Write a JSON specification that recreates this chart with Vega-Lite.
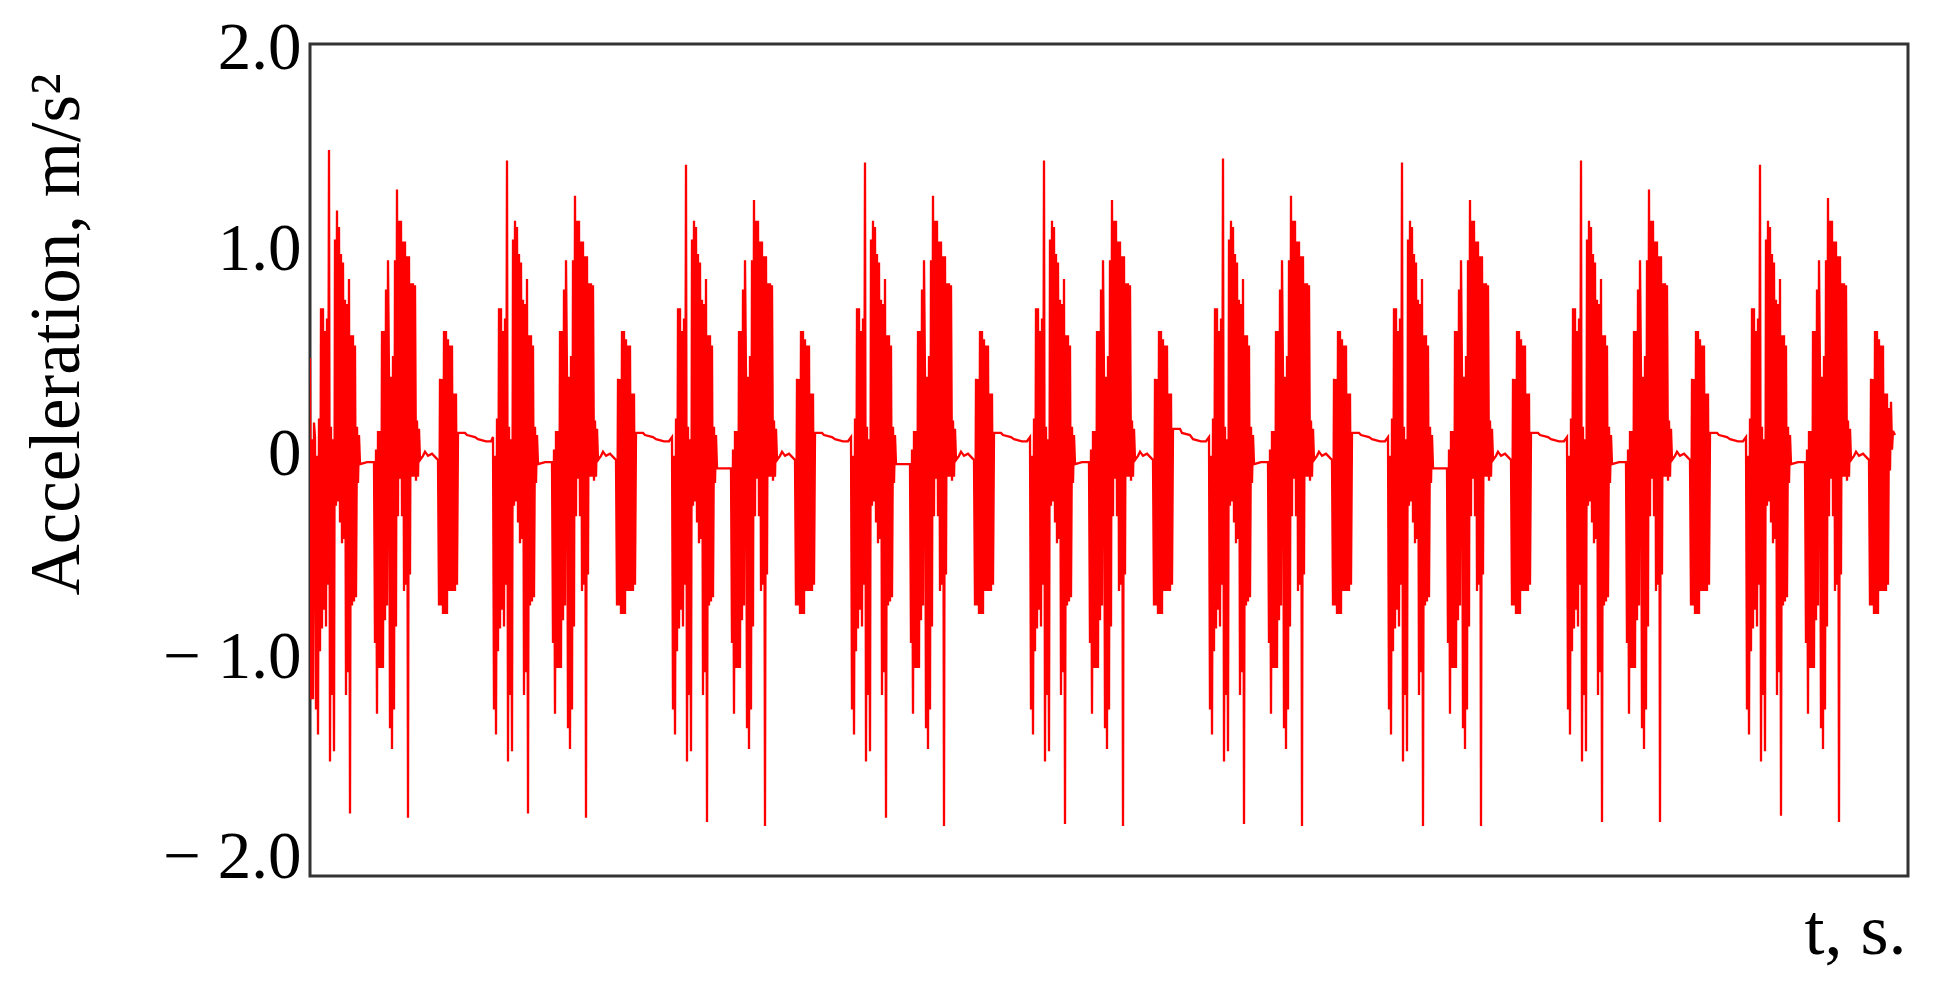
{
"$schema": "https://vega.github.io/schema/vega-lite/v6.json",
"width": 1598,
"height": 832,
"autosize": {"type": "none"},
"padding": {"left": 310, "top": 44, "right": 30, "bottom": 108},
"background": "white",
"config": {"view": {"stroke": "#333333", "strokeWidth": 3}, "font": "Liberation Serif"},
"data": {"values": [
{"t":0,"a":0.49},{"t":1,"a":-1.15},{"t":2,"a":0.1},{"t":3,"a":-1.15},{"t":4,"a":0.18},
{"t":5,"a":0.11},{"t":6,"a":-1.2},{"t":7,"a":0.02},{"t":8,"a":-1.32},{"t":9,"a":0.2},{"t":10,"a":-0.92},{"t":11,"a":0.73},{"t":12,"a":-0.81},{"t":13,"a":0.73},{"t":14,"a":-0.72},{"t":15,"a":0.62},{"t":16,"a":-0.8},{"t":17,"a":0.68},{"t":18,"a":-0.6},{"t":19,"a":1.49},{"t":20,"a":-1.45},{"t":21,"a":0.16},{"t":22,"a":-1.13},{"t":23,"a":0.1},{"t":24,"a":-1.4},{"t":25,"a":1.06},{"t":26,"a":-0.22},{"t":27,"a":1.2},{"t":28,"a":-0.2},{"t":29,"a":1.12},{"t":30,"a":-0.3},{"t":31,"a":0.99},{"t":32,"a":-0.4},{"t":33,"a":0.95},{"t":34,"a":-0.38},{"t":35,"a":0.77},{"t":36,"a":-1.13},{"t":37,"a":0.75},{"t":38,"a":-1.02},{"t":39,"a":0.87},{"t":40,"a":-1.7},{"t":41,"a":0.6},{"t":42,"a":-0.7},{"t":43,"a":0.6},{"t":44,"a":-0.68},{"t":45,"a":0.55},{"t":46,"a":-0.66},{"t":47,"a":0.16},{"t":48,"a":-0.11},{"t":49,"a":0.12},{"t":50,"a":-0.02},{"t":57,"a":-0.01},{"t":64,"a":-0.01},{"t":65,"a":-0.88},{"t":66,"a":0.05},{"t":67,"a":-1.22},{"t":68,"a":0.14},{"t":69,"a":-1},{"t":70,"a":0.14},{"t":71,"a":-1},{"t":72,"a":0.62},{"t":73,"a":-1},{"t":74,"a":0.62},{"t":75,"a":-0.77},{"t":76,"a":0.82},{"t":77,"a":-0.7},{"t":78,"a":0.96},{"t":79,"a":0.4},{"t":80,"a":-1.29},{"t":81,"a":0.4},{"t":82,"a":-1.39},{"t":83,"a":0.5},{"t":84,"a":-1.2},{"t":85,"a":0.96},{"t":86,"a":-0.8},{"t":87,"a":1.3},{"t":88,"a":-0.27},{"t":89,"a":1.15},{"t":90,"a":-0.09},{"t":91,"a":1.15},{"t":92,"a":-0.27},{"t":93,"a":1.05},{"t":94,"a":-0.63},{"t":95,"a":1.05},{"t":96,"a":-0.6},{"t":97,"a":0.98},{"t":98,"a":-1.72},{"t":99,"a":0.98},{"t":100,"a":-0.55},{"t":101,"a":0.85},{"t":102,"a":-0.08},{"t":103,"a":0.85},{"t":104,"a":-0.08},{"t":105,"a":0.84},{"t":106,"a":-0.1},{"t":107,"a":0.19},{"t":108,"a":-0.08},{"t":109,"a":0.15},{"t":110,"a":0},{"t":113,"a":0.02},{"t":115,"a":0.04},{"t":118,"a":0.02},{"t":122,"a":0.03},{"t":126,"a":0.01},{"t":128,"a":0},{"t":129,"a":-0.7},{"t":130,"a":0.39},{"t":131,"a":-0.7},{"t":132,"a":0.39},{"t":133,"a":-0.74},{"t":134,"a":0.62},{"t":135,"a":-0.74},{"t":136,"a":0.62},{"t":137,"a":-0.74},{"t":138,"a":0.58},{"t":139,"a":-0.63},{"t":140,"a":0.55},{"t":141,"a":-0.63},{"t":142,"a":0.55},{"t":143,"a":-0.63},{"t":144,"a":0.32},{"t":145,"a":-0.63},{"t":146,"a":0.32},{"t":147,"a":-0.6},{"t":148,"a":0.13},{"t":155,"a":0.13},{"t":157,"a":0.12},{"t":165,"a":0.11},{"t":168,"a":0.1},{"t":176,"a":0.09},{"t":181,"a":0.09},
{"t":183,"a":0.11},{"t":184,"a":-1.2},{"t":185,"a":0.02},{"t":186,"a":-1.32},{"t":187,"a":0.2},{"t":188,"a":-0.92},{"t":189,"a":0.73},{"t":190,"a":-0.81},{"t":191,"a":0.73},{"t":192,"a":-0.72},{"t":193,"a":0.62},{"t":194,"a":-0.8},{"t":195,"a":0.68},{"t":196,"a":-0.6},{"t":197,"a":1.44},{"t":198,"a":-1.45},{"t":199,"a":0.16},{"t":200,"a":-1.13},{"t":201,"a":0.1},{"t":202,"a":-1.4},{"t":203,"a":1.06},{"t":204,"a":-0.22},{"t":205,"a":1.15},{"t":206,"a":-0.2},{"t":207,"a":1.12},{"t":208,"a":-0.3},{"t":209,"a":0.99},{"t":210,"a":-0.4},{"t":211,"a":0.95},{"t":212,"a":-0.38},{"t":213,"a":0.77},{"t":214,"a":-1.13},{"t":215,"a":0.75},{"t":216,"a":-1.02},{"t":217,"a":0.87},{"t":218,"a":-1.7},{"t":219,"a":0.6},{"t":220,"a":-0.7},{"t":221,"a":0.6},{"t":222,"a":-0.68},{"t":223,"a":0.55},{"t":224,"a":-0.66},{"t":225,"a":0.16},{"t":226,"a":-0.11},{"t":227,"a":0.12},{"t":228,"a":-0.02},{"t":235,"a":-0.01},{"t":242,"a":-0.01},{"t":243,"a":-0.88},{"t":244,"a":0.05},{"t":245,"a":-1.22},{"t":246,"a":0.14},{"t":247,"a":-1},{"t":248,"a":0.14},{"t":249,"a":-1},{"t":250,"a":0.62},{"t":251,"a":-1},{"t":252,"a":0.62},{"t":253,"a":-0.77},{"t":254,"a":0.82},{"t":255,"a":-0.7},{"t":256,"a":0.96},{"t":257,"a":0.4},{"t":258,"a":-1.29},{"t":259,"a":0.4},{"t":260,"a":-1.39},{"t":261,"a":0.5},{"t":262,"a":-1.2},{"t":263,"a":0.96},{"t":264,"a":-0.8},{"t":265,"a":1.27},{"t":266,"a":-0.27},{"t":267,"a":1.15},{"t":268,"a":-0.09},{"t":269,"a":1.15},{"t":270,"a":-0.27},{"t":271,"a":1.05},{"t":272,"a":-0.63},{"t":273,"a":1.05},{"t":274,"a":-0.6},{"t":275,"a":0.98},{"t":276,"a":-1.72},{"t":277,"a":0.98},{"t":278,"a":-0.55},{"t":279,"a":0.85},{"t":280,"a":-0.08},{"t":281,"a":0.85},{"t":282,"a":-0.08},{"t":283,"a":0.84},{"t":284,"a":-0.1},{"t":285,"a":0.19},{"t":286,"a":-0.08},{"t":287,"a":0.15},{"t":288,"a":0},{"t":291,"a":0.02},{"t":293,"a":0.04},{"t":296,"a":0.02},{"t":300,"a":0.03},{"t":304,"a":0.01},{"t":306,"a":0},{"t":307,"a":-0.7},{"t":308,"a":0.39},{"t":309,"a":-0.7},{"t":310,"a":0.39},{"t":311,"a":-0.74},{"t":312,"a":0.62},{"t":313,"a":-0.74},{"t":314,"a":0.62},{"t":315,"a":-0.74},{"t":316,"a":0.58},{"t":317,"a":-0.63},{"t":318,"a":0.55},{"t":319,"a":-0.63},{"t":320,"a":0.55},{"t":321,"a":-0.63},{"t":322,"a":0.32},{"t":323,"a":-0.63},{"t":324,"a":0.32},{"t":325,"a":-0.6},{"t":326,"a":0.13},{"t":333,"a":0.13},{"t":335,"a":0.12},{"t":343,"a":0.11},{"t":346,"a":0.1},{"t":354,"a":0.09},{"t":359,"a":0.09},
{"t":362,"a":0.11},{"t":363,"a":-1.2},{"t":364,"a":0.02},{"t":365,"a":-1.32},{"t":366,"a":0.2},{"t":367,"a":-0.92},{"t":368,"a":0.73},{"t":369,"a":-0.81},{"t":370,"a":0.73},{"t":371,"a":-0.72},{"t":372,"a":0.62},{"t":373,"a":-0.8},{"t":374,"a":0.68},{"t":375,"a":-0.6},{"t":376,"a":1.42},{"t":377,"a":-1.45},{"t":378,"a":0.16},{"t":379,"a":-1.13},{"t":380,"a":0.1},{"t":381,"a":-1.4},{"t":382,"a":1.06},{"t":383,"a":-0.22},{"t":384,"a":1.15},{"t":385,"a":-0.2},{"t":386,"a":1.12},{"t":387,"a":-0.3},{"t":388,"a":0.99},{"t":389,"a":-0.4},{"t":390,"a":0.95},{"t":391,"a":-0.38},{"t":392,"a":0.77},{"t":393,"a":-1.13},{"t":394,"a":0.75},{"t":395,"a":-1.02},{"t":396,"a":0.87},{"t":397,"a":-1.74},{"t":398,"a":0.6},{"t":399,"a":-0.7},{"t":400,"a":0.6},{"t":401,"a":-0.68},{"t":402,"a":0.55},{"t":403,"a":-0.66},{"t":404,"a":0.16},{"t":405,"a":-0.11},{"t":406,"a":0.12},{"t":407,"a":-0.04},{"t":414,"a":-0.04},{"t":421,"a":-0.04},{"t":422,"a":-0.88},{"t":423,"a":0.05},{"t":424,"a":-1.22},{"t":425,"a":0.14},{"t":426,"a":-1},{"t":427,"a":0.14},{"t":428,"a":-1},{"t":429,"a":0.62},{"t":430,"a":-1},{"t":431,"a":0.62},{"t":432,"a":-0.77},{"t":433,"a":0.82},{"t":434,"a":-0.7},{"t":435,"a":0.96},{"t":436,"a":0.4},{"t":437,"a":-1.29},{"t":438,"a":0.4},{"t":439,"a":-1.39},{"t":440,"a":0.5},{"t":441,"a":-1.2},{"t":442,"a":0.96},{"t":443,"a":-0.8},{"t":444,"a":1.25},{"t":445,"a":-0.27},{"t":446,"a":1.15},{"t":447,"a":-0.09},{"t":448,"a":1.15},{"t":449,"a":-0.27},{"t":450,"a":1.05},{"t":451,"a":-0.63},{"t":452,"a":1.05},{"t":453,"a":-0.6},{"t":454,"a":0.98},{"t":455,"a":-1.76},{"t":456,"a":0.98},{"t":457,"a":-0.55},{"t":458,"a":0.85},{"t":459,"a":-0.08},{"t":460,"a":0.85},{"t":461,"a":-0.08},{"t":462,"a":0.84},{"t":463,"a":-0.1},{"t":464,"a":0.19},{"t":465,"a":-0.08},{"t":466,"a":0.15},{"t":467,"a":0},{"t":470,"a":0.02},{"t":472,"a":0.04},{"t":475,"a":0.02},{"t":479,"a":0.03},{"t":483,"a":0.01},{"t":485,"a":0},{"t":486,"a":-0.7},{"t":487,"a":0.39},{"t":488,"a":-0.7},{"t":489,"a":0.39},{"t":490,"a":-0.74},{"t":491,"a":0.62},{"t":492,"a":-0.74},{"t":493,"a":0.62},{"t":494,"a":-0.74},{"t":495,"a":0.58},{"t":496,"a":-0.63},{"t":497,"a":0.55},{"t":498,"a":-0.63},{"t":499,"a":0.55},{"t":500,"a":-0.63},{"t":501,"a":0.32},{"t":502,"a":-0.63},{"t":503,"a":0.32},{"t":504,"a":-0.6},{"t":505,"a":0.13},{"t":512,"a":0.13},{"t":514,"a":0.12},{"t":522,"a":0.11},{"t":525,"a":0.1},{"t":533,"a":0.09},{"t":538,"a":0.09},
{"t":541,"a":0.11},{"t":542,"a":-1.2},{"t":543,"a":0.02},{"t":544,"a":-1.32},{"t":545,"a":0.2},{"t":546,"a":-0.92},{"t":547,"a":0.73},{"t":548,"a":-0.81},{"t":549,"a":0.73},{"t":550,"a":-0.72},{"t":551,"a":0.62},{"t":552,"a":-0.8},{"t":553,"a":0.68},{"t":554,"a":-0.6},{"t":555,"a":1.43},{"t":556,"a":-1.45},{"t":557,"a":0.16},{"t":558,"a":-1.13},{"t":559,"a":0.1},{"t":560,"a":-1.4},{"t":561,"a":1.06},{"t":562,"a":-0.22},{"t":563,"a":1.15},{"t":564,"a":-0.2},{"t":565,"a":1.12},{"t":566,"a":-0.3},{"t":567,"a":0.99},{"t":568,"a":-0.4},{"t":569,"a":0.95},{"t":570,"a":-0.38},{"t":571,"a":0.77},{"t":572,"a":-1.13},{"t":573,"a":0.75},{"t":574,"a":-1.02},{"t":575,"a":0.87},{"t":576,"a":-1.72},{"t":577,"a":0.6},{"t":578,"a":-0.7},{"t":579,"a":0.6},{"t":580,"a":-0.68},{"t":581,"a":0.55},{"t":582,"a":-0.66},{"t":583,"a":0.16},{"t":584,"a":-0.11},{"t":585,"a":0.12},{"t":586,"a":-0.02},{"t":593,"a":-0.02},{"t":600,"a":-0.02},{"t":601,"a":-0.88},{"t":602,"a":0.05},{"t":603,"a":-1.22},{"t":604,"a":0.14},{"t":605,"a":-1},{"t":606,"a":0.14},{"t":607,"a":-1},{"t":608,"a":0.62},{"t":609,"a":-1},{"t":610,"a":0.62},{"t":611,"a":-0.77},{"t":612,"a":0.82},{"t":613,"a":-0.7},{"t":614,"a":0.96},{"t":615,"a":0.4},{"t":616,"a":-1.29},{"t":617,"a":0.4},{"t":618,"a":-1.39},{"t":619,"a":0.5},{"t":620,"a":-1.2},{"t":621,"a":0.96},{"t":622,"a":-0.8},{"t":623,"a":1.27},{"t":624,"a":-0.27},{"t":625,"a":1.15},{"t":626,"a":-0.09},{"t":627,"a":1.15},{"t":628,"a":-0.27},{"t":629,"a":1.05},{"t":630,"a":-0.63},{"t":631,"a":1.05},{"t":632,"a":-0.6},{"t":633,"a":0.98},{"t":634,"a":-1.76},{"t":635,"a":0.98},{"t":636,"a":-0.55},{"t":637,"a":0.85},{"t":638,"a":-0.08},{"t":639,"a":0.85},{"t":640,"a":-0.08},{"t":641,"a":0.84},{"t":642,"a":-0.1},{"t":643,"a":0.19},{"t":644,"a":-0.08},{"t":645,"a":0.15},{"t":646,"a":0},{"t":649,"a":0.02},{"t":651,"a":0.04},{"t":654,"a":0.02},{"t":658,"a":0.03},{"t":662,"a":0.01},{"t":664,"a":0},{"t":665,"a":-0.7},{"t":666,"a":0.39},{"t":667,"a":-0.7},{"t":668,"a":0.39},{"t":669,"a":-0.74},{"t":670,"a":0.62},{"t":671,"a":-0.74},{"t":672,"a":0.62},{"t":673,"a":-0.74},{"t":674,"a":0.58},{"t":675,"a":-0.63},{"t":676,"a":0.55},{"t":677,"a":-0.63},{"t":678,"a":0.55},{"t":679,"a":-0.63},{"t":680,"a":0.32},{"t":681,"a":-0.63},{"t":682,"a":0.32},{"t":683,"a":-0.6},{"t":684,"a":0.13},{"t":691,"a":0.13},{"t":693,"a":0.12},{"t":701,"a":0.11},{"t":704,"a":0.1},{"t":712,"a":0.09},{"t":717,"a":0.09},
{"t":720,"a":0.11},{"t":721,"a":-1.2},{"t":722,"a":0.02},{"t":723,"a":-1.32},{"t":724,"a":0.2},{"t":725,"a":-0.92},{"t":726,"a":0.73},{"t":727,"a":-0.81},{"t":728,"a":0.73},{"t":729,"a":-0.72},{"t":730,"a":0.62},{"t":731,"a":-0.8},{"t":732,"a":0.68},{"t":733,"a":-0.6},{"t":734,"a":1.44},{"t":735,"a":-1.45},{"t":736,"a":0.16},{"t":737,"a":-1.13},{"t":738,"a":0.1},{"t":739,"a":-1.4},{"t":740,"a":1.06},{"t":741,"a":-0.22},{"t":742,"a":1.15},{"t":743,"a":-0.2},{"t":744,"a":1.12},{"t":745,"a":-0.3},{"t":746,"a":0.99},{"t":747,"a":-0.4},{"t":748,"a":0.95},{"t":749,"a":-0.38},{"t":750,"a":0.77},{"t":751,"a":-1.13},{"t":752,"a":0.75},{"t":753,"a":-1.02},{"t":754,"a":0.87},{"t":755,"a":-1.75},{"t":756,"a":0.6},{"t":757,"a":-0.7},{"t":758,"a":0.6},{"t":759,"a":-0.68},{"t":760,"a":0.55},{"t":761,"a":-0.66},{"t":762,"a":0.16},{"t":763,"a":-0.11},{"t":764,"a":0.12},{"t":765,"a":-0.02},{"t":772,"a":-0.01},{"t":779,"a":-0.01},{"t":780,"a":-0.88},{"t":781,"a":0.05},{"t":782,"a":-1.22},{"t":783,"a":0.14},{"t":784,"a":-1},{"t":785,"a":0.14},{"t":786,"a":-1},{"t":787,"a":0.62},{"t":788,"a":-1},{"t":789,"a":0.62},{"t":790,"a":-0.77},{"t":791,"a":0.82},{"t":792,"a":-0.7},{"t":793,"a":0.96},{"t":794,"a":0.4},{"t":795,"a":-1.29},{"t":796,"a":0.4},{"t":797,"a":-1.39},{"t":798,"a":0.5},{"t":799,"a":-1.2},{"t":800,"a":0.96},{"t":801,"a":-0.8},{"t":802,"a":1.25},{"t":803,"a":-0.27},{"t":804,"a":1.15},{"t":805,"a":-0.09},{"t":806,"a":1.15},{"t":807,"a":-0.27},{"t":808,"a":1.05},{"t":809,"a":-0.63},{"t":810,"a":1.05},{"t":811,"a":-0.6},{"t":812,"a":0.98},{"t":813,"a":-1.76},{"t":814,"a":0.98},{"t":815,"a":-0.55},{"t":816,"a":0.85},{"t":817,"a":-0.08},{"t":818,"a":0.85},{"t":819,"a":-0.08},{"t":820,"a":0.84},{"t":821,"a":-0.1},{"t":822,"a":0.19},{"t":823,"a":-0.08},{"t":824,"a":0.15},{"t":825,"a":0},{"t":828,"a":0.02},{"t":830,"a":0.04},{"t":833,"a":0.02},{"t":837,"a":0.03},{"t":841,"a":0.01},{"t":843,"a":0},{"t":844,"a":-0.7},{"t":845,"a":0.39},{"t":846,"a":-0.7},{"t":847,"a":0.39},{"t":848,"a":-0.74},{"t":849,"a":0.62},{"t":850,"a":-0.74},{"t":851,"a":0.62},{"t":852,"a":-0.74},{"t":853,"a":0.58},{"t":854,"a":-0.63},{"t":855,"a":0.55},{"t":856,"a":-0.63},{"t":857,"a":0.55},{"t":858,"a":-0.63},{"t":859,"a":0.32},{"t":860,"a":-0.63},{"t":861,"a":0.32},{"t":862,"a":-0.6},{"t":863,"a":0.15},{"t":870,"a":0.15},{"t":872,"a":0.13},{"t":880,"a":0.12},{"t":883,"a":0.1},{"t":891,"a":0.09},{"t":896,"a":0.09},
{"t":899,"a":0.11},{"t":900,"a":-1.2},{"t":901,"a":0.02},{"t":902,"a":-1.32},{"t":903,"a":0.2},{"t":904,"a":-0.92},{"t":905,"a":0.73},{"t":906,"a":-0.81},{"t":907,"a":0.73},{"t":908,"a":-0.72},{"t":909,"a":0.62},{"t":910,"a":-0.8},{"t":911,"a":0.68},{"t":912,"a":-0.6},{"t":913,"a":1.45},{"t":914,"a":-1.45},{"t":915,"a":0.16},{"t":916,"a":-1.13},{"t":917,"a":0.1},{"t":918,"a":-1.4},{"t":919,"a":1.06},{"t":920,"a":-0.22},{"t":921,"a":1.15},{"t":922,"a":-0.2},{"t":923,"a":1.12},{"t":924,"a":-0.3},{"t":925,"a":0.99},{"t":926,"a":-0.4},{"t":927,"a":0.95},{"t":928,"a":-0.38},{"t":929,"a":0.77},{"t":930,"a":-1.13},{"t":931,"a":0.75},{"t":932,"a":-1.02},{"t":933,"a":0.87},{"t":934,"a":-1.75},{"t":935,"a":0.6},{"t":936,"a":-0.7},{"t":937,"a":0.6},{"t":938,"a":-0.68},{"t":939,"a":0.55},{"t":940,"a":-0.66},{"t":941,"a":0.16},{"t":942,"a":-0.11},{"t":943,"a":0.12},{"t":944,"a":-0.02},{"t":951,"a":-0.01},{"t":958,"a":-0.01},{"t":959,"a":-0.88},{"t":960,"a":0.05},{"t":961,"a":-1.22},{"t":962,"a":0.14},{"t":963,"a":-1},{"t":964,"a":0.14},{"t":965,"a":-1},{"t":966,"a":0.62},{"t":967,"a":-1},{"t":968,"a":0.62},{"t":969,"a":-0.77},{"t":970,"a":0.82},{"t":971,"a":-0.7},{"t":972,"a":0.96},{"t":973,"a":0.4},{"t":974,"a":-1.29},{"t":975,"a":0.4},{"t":976,"a":-1.39},{"t":977,"a":0.5},{"t":978,"a":-1.2},{"t":979,"a":0.96},{"t":980,"a":-0.8},{"t":981,"a":1.27},{"t":982,"a":-0.27},{"t":983,"a":1.15},{"t":984,"a":-0.09},{"t":985,"a":1.15},{"t":986,"a":-0.27},{"t":987,"a":1.05},{"t":988,"a":-0.63},{"t":989,"a":1.05},{"t":990,"a":-0.6},{"t":991,"a":0.98},{"t":992,"a":-1.76},{"t":993,"a":0.98},{"t":994,"a":-0.55},{"t":995,"a":0.85},{"t":996,"a":-0.08},{"t":997,"a":0.85},{"t":998,"a":-0.08},{"t":999,"a":0.84},{"t":1000,"a":-0.1},{"t":1001,"a":0.19},{"t":1002,"a":-0.08},{"t":1003,"a":0.15},{"t":1004,"a":0},{"t":1007,"a":0.02},{"t":1009,"a":0.04},{"t":1012,"a":0.02},{"t":1016,"a":0.03},{"t":1020,"a":0.01},{"t":1022,"a":0},{"t":1023,"a":-0.7},{"t":1024,"a":0.39},{"t":1025,"a":-0.7},{"t":1026,"a":0.39},{"t":1027,"a":-0.74},{"t":1028,"a":0.62},{"t":1029,"a":-0.74},{"t":1030,"a":0.62},{"t":1031,"a":-0.74},{"t":1032,"a":0.58},{"t":1033,"a":-0.63},{"t":1034,"a":0.55},{"t":1035,"a":-0.63},{"t":1036,"a":0.55},{"t":1037,"a":-0.63},{"t":1038,"a":0.32},{"t":1039,"a":-0.63},{"t":1040,"a":0.32},{"t":1041,"a":-0.6},{"t":1042,"a":0.13},{"t":1049,"a":0.13},{"t":1051,"a":0.12},{"t":1059,"a":0.11},{"t":1062,"a":0.1},{"t":1070,"a":0.09},{"t":1075,"a":0.09},
{"t":1078,"a":0.11},{"t":1079,"a":-1.2},{"t":1080,"a":0.02},{"t":1081,"a":-1.32},{"t":1082,"a":0.2},{"t":1083,"a":-0.92},{"t":1084,"a":0.73},{"t":1085,"a":-0.81},{"t":1086,"a":0.73},{"t":1087,"a":-0.72},{"t":1088,"a":0.62},{"t":1089,"a":-0.8},{"t":1090,"a":0.68},{"t":1091,"a":-0.6},{"t":1092,"a":1.43},{"t":1093,"a":-1.45},{"t":1094,"a":0.16},{"t":1095,"a":-1.13},{"t":1096,"a":0.1},{"t":1097,"a":-1.4},{"t":1098,"a":1.06},{"t":1099,"a":-0.22},{"t":1100,"a":1.15},{"t":1101,"a":-0.2},{"t":1102,"a":1.12},{"t":1103,"a":-0.3},{"t":1104,"a":0.99},{"t":1105,"a":-0.4},{"t":1106,"a":0.95},{"t":1107,"a":-0.38},{"t":1108,"a":0.77},{"t":1109,"a":-1.13},{"t":1110,"a":0.75},{"t":1111,"a":-1.02},{"t":1112,"a":0.87},{"t":1113,"a":-1.76},{"t":1114,"a":0.6},{"t":1115,"a":-0.7},{"t":1116,"a":0.6},{"t":1117,"a":-0.68},{"t":1118,"a":0.55},{"t":1119,"a":-0.66},{"t":1120,"a":0.16},{"t":1121,"a":-0.11},{"t":1122,"a":0.12},{"t":1123,"a":-0.04},{"t":1130,"a":-0.04},{"t":1137,"a":-0.04},{"t":1138,"a":-0.88},{"t":1139,"a":0.05},{"t":1140,"a":-1.22},{"t":1141,"a":0.14},{"t":1142,"a":-1},{"t":1143,"a":0.14},{"t":1144,"a":-1},{"t":1145,"a":0.62},{"t":1146,"a":-1},{"t":1147,"a":0.62},{"t":1148,"a":-0.77},{"t":1149,"a":0.82},{"t":1150,"a":-0.7},{"t":1151,"a":0.96},{"t":1152,"a":0.4},{"t":1153,"a":-1.29},{"t":1154,"a":0.4},{"t":1155,"a":-1.39},{"t":1156,"a":0.5},{"t":1157,"a":-1.2},{"t":1158,"a":0.96},{"t":1159,"a":-0.8},{"t":1160,"a":1.25},{"t":1161,"a":-0.27},{"t":1162,"a":1.15},{"t":1163,"a":-0.09},{"t":1164,"a":1.15},{"t":1165,"a":-0.27},{"t":1166,"a":1.05},{"t":1167,"a":-0.63},{"t":1168,"a":1.05},{"t":1169,"a":-0.6},{"t":1170,"a":0.98},{"t":1171,"a":-1.76},{"t":1172,"a":0.98},{"t":1173,"a":-0.55},{"t":1174,"a":0.85},{"t":1175,"a":-0.08},{"t":1176,"a":0.85},{"t":1177,"a":-0.08},{"t":1178,"a":0.84},{"t":1179,"a":-0.1},{"t":1180,"a":0.19},{"t":1181,"a":-0.08},{"t":1182,"a":0.15},{"t":1183,"a":0},{"t":1186,"a":0.02},{"t":1188,"a":0.04},{"t":1191,"a":0.02},{"t":1195,"a":0.03},{"t":1199,"a":0.01},{"t":1201,"a":0},{"t":1202,"a":-0.7},{"t":1203,"a":0.39},{"t":1204,"a":-0.7},{"t":1205,"a":0.39},{"t":1206,"a":-0.74},{"t":1207,"a":0.62},{"t":1208,"a":-0.74},{"t":1209,"a":0.62},{"t":1210,"a":-0.74},{"t":1211,"a":0.58},{"t":1212,"a":-0.63},{"t":1213,"a":0.55},{"t":1214,"a":-0.63},{"t":1215,"a":0.55},{"t":1216,"a":-0.63},{"t":1217,"a":0.32},{"t":1218,"a":-0.63},{"t":1219,"a":0.32},{"t":1220,"a":-0.6},{"t":1221,"a":0.13},{"t":1228,"a":0.13},{"t":1230,"a":0.12},{"t":1238,"a":0.11},{"t":1241,"a":0.1},{"t":1249,"a":0.09},{"t":1254,"a":0.09},
{"t":1257,"a":0.11},{"t":1258,"a":-1.2},{"t":1259,"a":0.02},{"t":1260,"a":-1.32},{"t":1261,"a":0.2},{"t":1262,"a":-0.92},{"t":1263,"a":0.73},{"t":1264,"a":-0.81},{"t":1265,"a":0.73},{"t":1266,"a":-0.72},{"t":1267,"a":0.62},{"t":1268,"a":-0.8},{"t":1269,"a":0.68},{"t":1270,"a":-0.6},{"t":1271,"a":1.44},{"t":1272,"a":-1.45},{"t":1273,"a":0.16},{"t":1274,"a":-1.13},{"t":1275,"a":0.1},{"t":1276,"a":-1.4},{"t":1277,"a":1.06},{"t":1278,"a":-0.22},{"t":1279,"a":1.15},{"t":1280,"a":-0.2},{"t":1281,"a":1.12},{"t":1282,"a":-0.3},{"t":1283,"a":0.99},{"t":1284,"a":-0.4},{"t":1285,"a":0.95},{"t":1286,"a":-0.38},{"t":1287,"a":0.77},{"t":1288,"a":-1.13},{"t":1289,"a":0.75},{"t":1290,"a":-1.02},{"t":1291,"a":0.87},{"t":1292,"a":-1.74},{"t":1293,"a":0.6},{"t":1294,"a":-0.7},{"t":1295,"a":0.6},{"t":1296,"a":-0.68},{"t":1297,"a":0.55},{"t":1298,"a":-0.66},{"t":1299,"a":0.16},{"t":1300,"a":-0.11},{"t":1301,"a":0.12},{"t":1302,"a":-0.02},{"t":1309,"a":-0.01},{"t":1316,"a":-0.01},{"t":1317,"a":-0.88},{"t":1318,"a":0.05},{"t":1319,"a":-1.22},{"t":1320,"a":0.14},{"t":1321,"a":-1},{"t":1322,"a":0.14},{"t":1323,"a":-1},{"t":1324,"a":0.62},{"t":1325,"a":-1},{"t":1326,"a":0.62},{"t":1327,"a":-0.77},{"t":1328,"a":0.82},{"t":1329,"a":-0.7},{"t":1330,"a":0.96},{"t":1331,"a":0.4},{"t":1332,"a":-1.29},{"t":1333,"a":0.4},{"t":1334,"a":-1.39},{"t":1335,"a":0.5},{"t":1336,"a":-1.2},{"t":1337,"a":0.96},{"t":1338,"a":-0.8},{"t":1339,"a":1.3},{"t":1340,"a":-0.27},{"t":1341,"a":1.15},{"t":1342,"a":-0.09},{"t":1343,"a":1.15},{"t":1344,"a":-0.27},{"t":1345,"a":1.05},{"t":1346,"a":-0.63},{"t":1347,"a":1.05},{"t":1348,"a":-0.6},{"t":1349,"a":0.98},{"t":1350,"a":-1.74},{"t":1351,"a":0.98},{"t":1352,"a":-0.55},{"t":1353,"a":0.85},{"t":1354,"a":-0.08},{"t":1355,"a":0.85},{"t":1356,"a":-0.08},{"t":1357,"a":0.84},{"t":1358,"a":-0.1},{"t":1359,"a":0.19},{"t":1360,"a":-0.08},{"t":1361,"a":0.15},{"t":1362,"a":0},{"t":1365,"a":0.02},{"t":1367,"a":0.04},{"t":1370,"a":0.02},{"t":1374,"a":0.03},{"t":1378,"a":0.01},{"t":1380,"a":0},{"t":1381,"a":-0.7},{"t":1382,"a":0.39},{"t":1383,"a":-0.7},{"t":1384,"a":0.39},{"t":1385,"a":-0.74},{"t":1386,"a":0.62},{"t":1387,"a":-0.74},{"t":1388,"a":0.62},{"t":1389,"a":-0.74},{"t":1390,"a":0.58},{"t":1391,"a":-0.63},{"t":1392,"a":0.55},{"t":1393,"a":-0.63},{"t":1394,"a":0.55},{"t":1395,"a":-0.63},{"t":1396,"a":0.32},{"t":1397,"a":-0.63},{"t":1398,"a":0.32},{"t":1399,"a":-0.6},{"t":1400,"a":0.13},{"t":1407,"a":0.13},{"t":1409,"a":0.12},{"t":1417,"a":0.11},{"t":1420,"a":0.1},{"t":1428,"a":0.09},{"t":1433,"a":0.09},
{"t":1436,"a":0.11},{"t":1437,"a":-1.2},{"t":1438,"a":0.02},{"t":1439,"a":-1.32},{"t":1440,"a":0.2},{"t":1441,"a":-0.92},{"t":1442,"a":0.73},{"t":1443,"a":-0.81},{"t":1444,"a":0.73},{"t":1445,"a":-0.72},{"t":1446,"a":0.62},{"t":1447,"a":-0.8},{"t":1448,"a":0.68},{"t":1449,"a":-0.6},{"t":1450,"a":1.42},{"t":1451,"a":-1.45},{"t":1452,"a":0.16},{"t":1453,"a":-1.13},{"t":1454,"a":0.1},{"t":1455,"a":-1.4},{"t":1456,"a":1.06},{"t":1457,"a":-0.22},{"t":1458,"a":1.15},{"t":1459,"a":-0.2},{"t":1460,"a":1.12},{"t":1461,"a":-0.3},{"t":1462,"a":0.99},{"t":1463,"a":-0.4},{"t":1464,"a":0.95},{"t":1465,"a":-0.38},{"t":1466,"a":0.77},{"t":1467,"a":-1.13},{"t":1468,"a":0.75},{"t":1469,"a":-1.02},{"t":1470,"a":0.87},{"t":1471,"a":-1.71},{"t":1472,"a":0.6},{"t":1473,"a":-0.7},{"t":1474,"a":0.6},{"t":1475,"a":-0.68},{"t":1476,"a":0.55},{"t":1477,"a":-0.66},{"t":1478,"a":0.16},{"t":1479,"a":-0.11},{"t":1480,"a":0.12},{"t":1481,"a":-0.02},{"t":1488,"a":-0.01},{"t":1495,"a":-0.01},{"t":1496,"a":-0.88},{"t":1497,"a":0.05},{"t":1498,"a":-1.22},{"t":1499,"a":0.14},{"t":1500,"a":-1},{"t":1501,"a":0.14},{"t":1502,"a":-1},{"t":1503,"a":0.62},{"t":1504,"a":-1},{"t":1505,"a":0.62},{"t":1506,"a":-0.77},{"t":1507,"a":0.82},{"t":1508,"a":-0.7},{"t":1509,"a":0.96},{"t":1510,"a":0.4},{"t":1511,"a":-1.29},{"t":1512,"a":0.4},{"t":1513,"a":-1.39},{"t":1514,"a":0.5},{"t":1515,"a":-1.2},{"t":1516,"a":0.96},{"t":1517,"a":-0.8},{"t":1518,"a":1.26},{"t":1519,"a":-0.27},{"t":1520,"a":1.15},{"t":1521,"a":-0.09},{"t":1522,"a":1.15},{"t":1523,"a":-0.27},{"t":1524,"a":1.05},{"t":1525,"a":-0.63},{"t":1526,"a":1.05},{"t":1527,"a":-0.6},{"t":1528,"a":0.98},{"t":1529,"a":-1.74},{"t":1530,"a":0.98},{"t":1531,"a":-0.55},{"t":1532,"a":0.85},{"t":1533,"a":-0.08},{"t":1534,"a":0.85},{"t":1535,"a":-0.08},{"t":1536,"a":0.84},{"t":1537,"a":-0.1},{"t":1538,"a":0.19},{"t":1539,"a":-0.08},{"t":1540,"a":0.15},{"t":1541,"a":0},{"t":1544,"a":0.02},{"t":1546,"a":0.04},{"t":1549,"a":0.02},{"t":1553,"a":0.03},{"t":1557,"a":0.01},{"t":1559,"a":0},{"t":1560,"a":-0.7},{"t":1561,"a":0.39},{"t":1562,"a":-0.7},{"t":1563,"a":0.39},{"t":1564,"a":-0.74},{"t":1565,"a":0.62},{"t":1566,"a":-0.74},{"t":1567,"a":0.62},{"t":1568,"a":-0.74},{"t":1569,"a":0.58},{"t":1570,"a":-0.63},{"t":1571,"a":0.55},{"t":1572,"a":-0.63},{"t":1573,"a":0.55},{"t":1574,"a":-0.63},{"t":1575,"a":0.32},{"t":1576,"a":-0.63},{"t":1577,"a":0.32},{"t":1578,"a":-0.6},{"t":1579,"a":0.25},{"t":1580,"a":-0.05},{"t":1581,"a":0.28},{"t":1582,"a":0.05},{"t":1583,"a":0.14},{"t":1585,"a":0.12}
]},
"mark": {"type": "line", "color": "#ff0000", "strokeWidth": 2.3, "clip": true},
"encoding": {
"x": {"field": "t", "type": "quantitative", "scale": {"domain": [0, 1598], "nice": false, "zero": false},
 "axis": {"title": "t, s.", "labels": false, "ticks": false, "domain": false, "grid": false,
  "titleFont": "Liberation Serif", "titleFontSize": 72, "titleFontWeight": "normal", "titleColor": "#000000",
  "titleAnchor": "end", "titleAlign": "right", "titleBaseline": "alphabetic", "titleX": 1596, "titleY": 77}},
"y": {"field": "a", "type": "quantitative", "scale": {"domain": [-2, 2], "nice": false, "zero": false},
 "axis": {"title": "Acceleration, m/s²", "values": [-2, -1, 0, 1, 2], "ticks": false, "domain": false, "grid": false,
  "labelExpr": "datum.value == 0 ? '0' : (datum.value < 0 ? '− ' : '') + format(abs(datum.value), '.1f')",
  "labelFont": "Liberation Serif", "labelFontSize": 67, "labelColor": "#000000", "labelPadding": 9,
  "labelOffset": {"condition": [{"test": "datum.value == 2", "value": 4}, {"test": "datum.value == 1", "value": -3}, {"test": "datum.value == -1", "value": -11}, {"test": "datum.value == -2", "value": -19}], "value": -6},
  "titleFont": "Liberation Serif", "titleFontSize": 71, "titleFontWeight": "normal", "titleColor": "#000000",
  "titleAngle": 270, "titleAlign": "center", "titleBaseline": "alphabetic", "titleX": -232, "titleY": 290}}
}
}
